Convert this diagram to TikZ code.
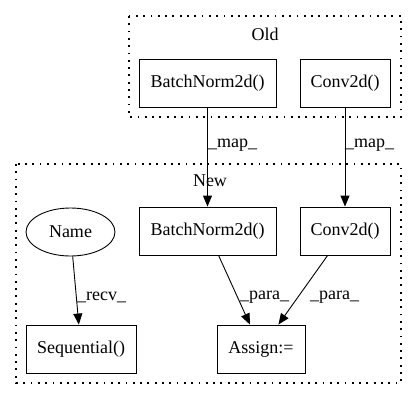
\documentclass[tikz,border=0pt]{standalone}
\usepackage{fontspec}
\setmainfont{Liberation Serif}
\usetikzlibrary{arrows.meta,shapes.geometric}
\begin{document}
\begin{tikzpicture}[x=1pt,y=-1pt,
  box/.style={draw,line width=0.9pt,minimum height=48pt,inner sep=0pt,font=\fontsize{18}{20}\selectfont},
  oval/.style={draw,ellipse,line width=0.9pt,minimum width=89pt,minimum height=48pt,inner sep=0pt,font=\fontsize{18}{20}\selectfont},
  cluster/.style={line width=1.2pt,dash pattern=on 1.8pt off 5.5pt},
  edge/.style={line width=0.9pt,-{Triangle[length=11pt,width=9pt]}},
  lbl/.style={anchor=west,inner sep=0pt,font=\fontsize{18}{20}\selectfont},
  ttl/.style={inner sep=0pt,font=\fontsize{18}{20}\selectfont}]
\useasboundingbox (0,0) rectangle (417,400);
\draw[cluster] (129,16) rectangle (401,117);
\draw[cluster] (16,164) rectangle (401,383);
\node[ttl] (oldt) at (265,34) {Old};
\node[ttl] (newt) at (210,181) {New};
\node[box,minimum width=137pt] (obn) at (207.5,83) {BatchNorm2d()};
\node[box,minimum width=90pt] (oconv) at (345,83) {Conv2d()};
\node[box,minimum width=137pt] (nbn) at (207.5,231) {BatchNorm2d()};
\node[box,minimum width=90pt] (nconv) at (345,231) {Conv2d()};
\node[oval] (name) at (70.5,232) {Name};
\node[box,minimum width=110pt] (seq) at (81,349) {Sequential()};
\node[box,minimum width=88pt] (asg) at (261,349) {Assign:=};
\draw[edge] (obn) -- (nbn);
\draw[edge] (oconv) -- (nconv);
\draw[edge] (name) -- (seq);
\draw[edge] (nbn) -- (asg);
\draw[edge] (nconv) -- (asg);
\node[lbl] (m1) at (208,145) {\_map\_};
\node[lbl] (m2) at (345,145) {\_map\_};
\node[lbl] (r1) at (77,297) {\_recv\_};
\node[lbl] (p1) at (240,297) {\_para\_};
\node[lbl] (p2) at (310,297) {\_para\_};
\end{tikzpicture}
\end{document}
